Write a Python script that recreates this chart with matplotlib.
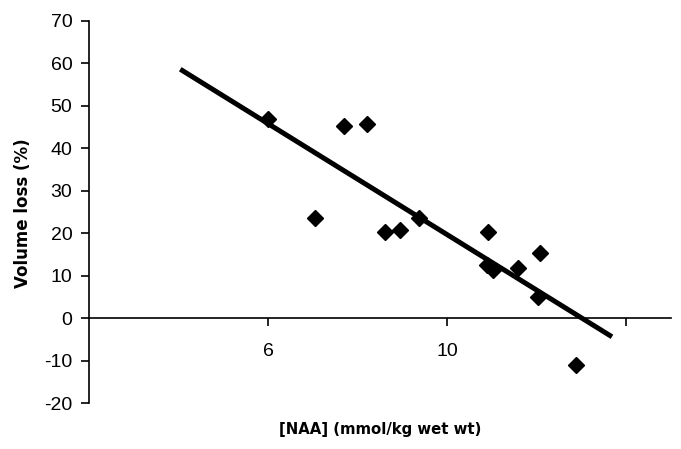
import matplotlib.pyplot as plt
import numpy as np

plt.rcParams['font.family'] = ['Liberation Sans', 'DejaVu Sans']
plt.rcParams['axes.unicode_minus'] = False

# [NAA] (mmol/kg wet wt) vs volume loss (%)
naa = [6.0, 7.06, 7.69, 8.21, 8.62, 8.96, 9.37, 10.91, 10.89, 11.04, 11.60, 12.07, 12.03, 12.89]
vol_loss = [46.8, 23.5, 45.2, 45.8, 20.2, 20.7, 23.5, 20.2, 12.5, 11.3, 11.9, 15.4, 4.9, -11.1]

# regression line
fit_slope = -6.53
fit_intercept = 85.0
fit_x = [4.04, 13.69]

x_ticks = [6, 10, 14]
x_tick_labels = ['6', '10', '']
y_ticks = [-20, -10, 0, 10, 20, 30, 40, 50, 60, 70]

fig = plt.figure(figsize=(6.81, 4.49), dpi=100)
ax = fig.add_axes([0.1307, 0.1024, 0.854, 0.851])

fx = np.array(fit_x)
ax.plot(fx, fit_slope * fx + fit_intercept, color='black', lw=3.6, solid_capstyle='butt')
ax.plot(naa, vol_loss, linestyle='none', marker='D', markersize=8, color='black')

ax.set_xlim(2, 15)
ax.set_ylim(-20, 70)
ax.spines['top'].set_visible(False)
ax.spines['right'].set_visible(False)
ax.spines['bottom'].set_position(('data', 0))
ax.spines['left'].set_linewidth(1.2)
ax.spines['bottom'].set_linewidth(1.2)

ax.set_xticks(x_ticks)
ax.set_xticklabels(x_tick_labels)
ax.set_yticks(y_ticks)
ax.tick_params(axis='both', labelsize=14, length=6, width=1.2, direction='out')
ax.tick_params(axis='x', pad=12)
ax.tick_params(axis='y', pad=6)

fig.text(0.034, 0.526, 'Volume loss (%)', fontsize=12, fontweight='bold',
         family='DejaVu Sans', rotation=90, ha='center', va='center')
fig.text(0.558, 0.027, '[NAA] (mmol/kg wet wt)', fontsize=10.7, fontweight='bold',
         family='DejaVu Sans', ha='center', va='bottom')

plt.savefig('out.png', dpi=100)
